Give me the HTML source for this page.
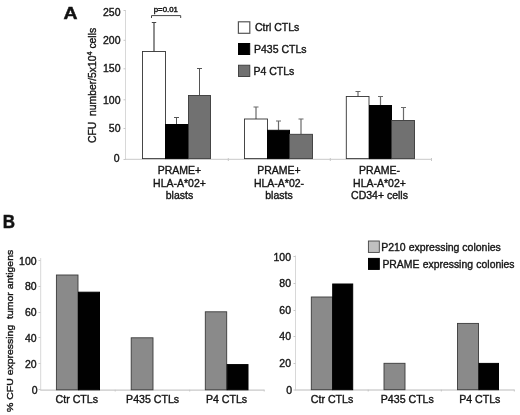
<!DOCTYPE html>
<html><head><meta charset="utf-8">
<style>
html,body{margin:0;padding:0;background:#fff;}
body{width:520px;height:415px;overflow:hidden;}
svg{display:block;will-change:transform;opacity:.999;font-family:"Liberation Sans",sans-serif;fill:#111;}
text{stroke:#1a1a1a;stroke-width:.38px;}
.ax{stroke:#c8c8c8;stroke-width:1;fill:none;}
.ay{stroke:#d8d8d8;stroke-width:1;fill:none;}
.eb{stroke:#555;stroke-width:1;fill:none;}
.e2{stroke:#6a6a6a;stroke-width:1.2;}
.w{fill:#fff;stroke:#333;stroke-width:.9;}
.k{fill:#000;stroke:#000;stroke-width:1;}
.g{fill:#717171;stroke:#3a3a3a;stroke-width:.9;}
.g2{fill:#8a8a8a;stroke:#3a3a3a;stroke-width:.9;}
.t{font-size:10.5px;}
.n{font-size:10.5px;text-anchor:end;}
.c{font-size:10.5px;text-anchor:middle;}
.cb{font-size:10.6px;text-anchor:middle;}
</style></head><body>
<svg width="520" height="415" viewBox="0 0 520 415">
<rect width="520" height="415" fill="#fff"/>

<!-- ===== Panel A ===== -->
<text transform="translate(63.6,18.6) scale(1.14,1)" font-size="17" font-weight="bold" style="stroke-width:.5px">A</text>
<!-- axes -->
<path class="ay" d="M125.5 10V159.5"/><path class="ax" d="M125 159.3H431.5"/>
<path class="ax" d="M123.5 10.5H125.5M123.5 40.3H125.5M123.5 68.8H125.5M123.5 99.8H125.5M123.5 128.5H125.5M123.5 159.5H125.5"/>
<path class="ax" d="M228.3 158V161M330.3 158V161M431.5 158V161"/>
<g class="n">
<text x="120.5" y="16.2">250</text>
<text x="120.5" y="44">200</text>
<text x="120.5" y="72.1">150</text>
<text x="120.5" y="103.6">100</text>
<text x="120.5" y="131.6">50</text>
<text x="119.6" y="162.2">0</text>
</g>
<text class="t" transform="translate(95.8,143) rotate(-90) scale(.988,1)">CFU&#160;&#160;number/5x10<tspan style="font-size:7.3px" dy="-3.6">4</tspan><tspan dy="3.6"> cells</tspan></text>

<!-- error bars group1 -->
<path class="eb" d="M154 52V22.5M151.8 22.5H156.2" style="stroke:#444;stroke-width:1.2"/>
<path class="eb" d="M176.5 124V117.5M174.0 117.5H179.0"/>
<path class="eb" d="M199.5 95V68.5M197 68.5H202"/>
<!-- bars group1 -->
<rect class="w" x="142.5" y="51.5" width="23" height="107.1"/>
<rect class="k" x="165.5" y="124.5" width="23" height="34.1"/>
<rect class="g" x="188.5" y="95.5" width="22" height="63.1"/>
<!-- p bracket -->
<path d="M151.5 18V15.6H180.7V18" stroke="#444" stroke-width="1" fill="none"/>
<text x="165.8" y="12.2" font-size="7.8" text-anchor="middle" style="stroke-width:.45px">p=0.01</text>

<!-- group2 -->
<path class="eb e2" d="M256 119V107M253.5 107H258.5"/>
<path class="eb e2" d="M278.5 130V121M276 121H281"/>
<path class="eb e2" d="M301 134V119M298.5 119H303.5"/>
<rect class="w" x="244.5" y="119" width="23" height="39.6"/>
<rect class="k" x="267.5" y="130.3" width="22" height="28.3"/>
<rect class="g" x="289.5" y="134.3" width="23" height="24.3"/>

<!-- group3 -->
<path class="eb e2" d="M358 97V91.5M355.5 91.5H360.5"/>
<path class="eb e2" d="M380.5 105V96.5M378.0 96.5H383.0"/>
<path class="eb e2" d="M403.5 120V107.5M401.0 107.5H406.0"/>
<rect class="w" x="346.3" y="96.5" width="22.7" height="62.1"/>
<rect class="k" x="369.5" y="105.5" width="22" height="53.1"/>
<rect class="g" x="391.5" y="120.5" width="23" height="38.1"/>

<!-- category labels -->
<g class="c">
<text x="179.5" y="174">PRAME+</text>
<text x="179.5" y="186.6">HLA-A*02+</text>
<text x="179.5" y="199.4">blasts</text>
<text x="279" y="174">PRAME+</text>
<text x="279" y="186.6">HLA-A*02-</text>
<text x="279" y="199.4">blasts</text>
<text x="379.5" y="174">PRAME-</text>
<text x="379.5" y="186.6">HLA-A*02+</text>
<text x="379.5" y="199.4">CD34+ cells</text>
</g>

<!-- legend A -->
<rect class="w" x="238.4" y="21.8" width="11.4" height="11.5" style="stroke:#555;stroke-width:1.2"/>
<rect class="k" x="238.5" y="43.5" width="11.2" height="11"/>
<rect class="g" x="238.5" y="65.2" width="11.3" height="11.3"/>
<g class="t">
<text x="255" y="31">Ctrl CTLs</text>
<text x="254" y="53">P435 CTLs</text>
<text x="253.5" y="74.5">P4 CTLs</text>
</g>

<!-- ===== Panel B ===== -->
<text transform="translate(2.8,227.6) scale(.96,1)" font-size="17.7" font-weight="bold" style="stroke-width:.5px">B</text>
<text transform="translate(13,411.9) rotate(-90) scale(1.09,1)" style="font-size:9.6px">% CFU expressing&#160;&#160;tumor antigens</text>

<!-- left chart -->
<path class="ay" d="M40.7 258V389.8"/><path class="ax" d="M40.2 390.1H264.5" style="stroke:#bbb"/>
<path class="ax" d="M38.5 260.5H40.5M38.5 286.5H40.5M38.5 312.5H40.5M38.5 337.5H40.5M38.5 363.5H40.5M38.5 389.5H40.5"/>
<g class="n">
<text x="36.6" y="265">100</text>
<text x="36.6" y="290">80</text>
<text x="36.6" y="315.5">60</text>
<text x="36.6" y="341.5">40</text>
<text x="36.6" y="367.5">20</text>
<text x="37.5" y="393.9">0</text>
</g>
<rect class="g2" x="56.4" y="275" width="21.6" height="114.8"/>
<rect class="k" x="78.5" y="292.2" width="21" height="97.6"/>
<rect class="g2" x="131.2" y="337.8" width="21.8" height="52"/>
<rect class="g2" x="205.3" y="311.8" width="21.4" height="78"/>
<rect class="k" x="227.2" y="364.6" width="20.8" height="25.2"/>
<g class="cb">
<text x="76.8" y="403">Ctr CTLs</text>
<text x="152.6" y="403">P435 CTLs</text>
<text x="226.5" y="403">P4 CTLs</text>
</g>

<path class="ax" d="M115.2 389.8V391.5M189.7 389.8V391.5M264.2 389.8V391.5M368.2 389.7V391.5M441.3 389.7V391.5M514.3 389.7V391.5"/>
<!-- right chart -->
<path class="ay" d="M295.5 255.5V389.7"/><path class="ax" d="M295 390H514.5" style="stroke:#bbb"/>
<path class="ax" d="M293.5 256.5H295.5M293.5 283.5H295.5M293.5 310.5H295.5M293.5 336.5H295.5M293.5 363.5H295.5M293.5 390H295.5"/>
<g class="n">
<text x="291" y="260.5">100</text>
<text x="291" y="287">80</text>
<text x="291" y="314">60</text>
<text x="291" y="340">40</text>
<text x="291" y="367">20</text>
<text x="292.2" y="394.1">0</text>
</g>
<rect class="g2" x="311.3" y="297" width="21.2" height="92.7"/>
<rect class="k" x="332.7" y="284" width="20" height="105.7"/>
<rect class="g2" x="384" y="363.3" width="21" height="26.4"/>
<rect class="g2" x="457.5" y="323.4" width="21" height="66.3"/>
<rect class="k" x="479" y="363.4" width="19.5" height="26.3"/>
<g class="cb">
<text x="332" y="403">Ctr CTLs</text>
<text x="407.3" y="403">P435 CTLs</text>
<text x="479.8" y="403">P4 CTLs</text>
</g>
<!-- legend B -->
<rect x="368.4" y="241" width="10.9" height="11.4" fill="#c0c0c0" stroke="#444" stroke-width=".9"/>
<rect class="k" x="368.5" y="258.4" width="10.8" height="11"/>
<g class="t">
<text x="381.2" y="250.9" style="font-size:10.5px">P210 expressing colonies</text>
<text x="382.4" y="267.7" style="font-size:10.4px;word-spacing:.5px">PRAME expressing colonies</text>
</g>
</svg>
</body></html>
